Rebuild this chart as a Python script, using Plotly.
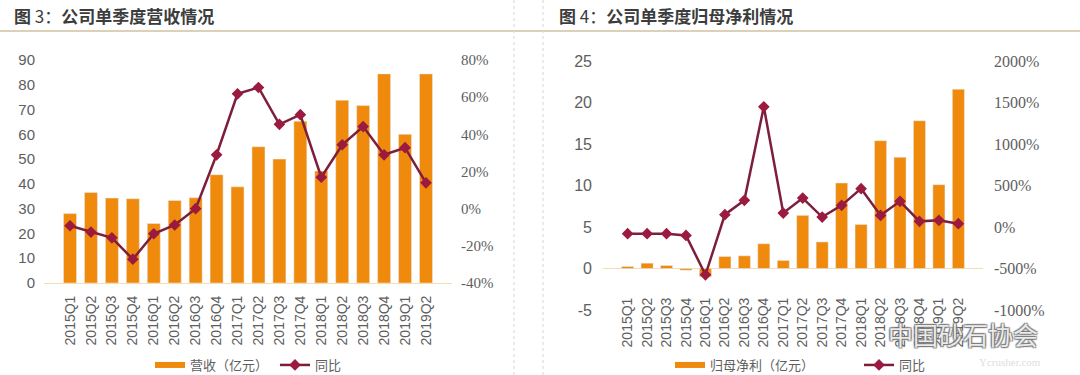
import plotly.graph_objects as go

W, H = 1080, 375

quarters = ["2015Q1", "2015Q2", "2015Q3", "2015Q4", "2016Q1", "2016Q2", "2016Q3", "2016Q4",
            "2017Q1", "2017Q2", "2017Q3", "2017Q4", "2018Q1", "2018Q2", "2018Q3", "2018Q4",
            "2019Q1", "2019Q2"]
revenue = [28.0, 36.5, 34.3, 34.0, 24.0, 33.3, 34.4, 43.7, 38.8, 55.0, 50.0, 65.3, 45.2, 73.8,
           71.6, 84.4, 60.0, 84.4]
revenue_yoy = [-9.2, -12.6, -15.7, -27.2, -13.5, -8.8, 0.0, 29.0, 61.8, 65.2, 45.4, 50.6, 16.9,
               34.4, 44.2, 29.0, 32.8, 13.9]
profit = [0.24, 0.64, 0.36, -0.2, -1.0, 1.45, 1.53, 2.98, 0.97, 6.4, 3.2, 10.3, 5.3, 15.4, 13.4,
          17.8, 10.1, 21.6]
profit_yoy = [-81, -80, -81, -101, -576, 149, 321, 1448, 168, 349, 120, 261, 462, 140, 309, 68,
              80, 40]

rev_ticks = [0, 10, 20, 30, 40, 50, 60, 70, 80, 90]
rev_yoy_ticks = [-40, -20, 0, 20, 40, 60, 80]
rev_yoy_text = ["-40%", "-20%", "0%", "20%", "40%", "60%", "80%"]
prof_ticks = [-5, 0, 5, 10, 15, 20, 25]
prof_text = ["-5", "0", "5", "10", "15", "20", "25"]
prof_yoy_ticks = [-1000, -500, 0, 500, 1000, 1500, 2000]
prof_yoy_text = ["-1000%", "-500%", "0%", "500%", "1000%", "1500%", "2000%"]

title_left = "<b>图</b> 3：<b>公司单季度营收情况</b>"
title_right = "<b>图</b> 4：<b>公司单季度归母净利情况</b>"
name_rev = "营收（亿元）"
name_prof = "归母净利（亿元）"
name_yoy = "同比"

ORANGE = "#F08A0C"
MAROON = "#7D1F3C"
MARK = "#9C1A40"
GRAY = "#5E5E5E"
SANS = "Liberation Sans, Noto Sans CJK SC, sans-serif"
SERIF = "Liberation Serif, serif"
CJK = "Noto Sans CJK SC, sans-serif"


def px_x(p):
    return p / W


def px_y(p):
    return 1 - p / H


fig = go.Figure()

# ---- left chart ----
fig.add_trace(go.Bar(x=quarters, y=revenue, marker_color=ORANGE, xaxis="x", yaxis="y",
                     showlegend=False))
fig.add_trace(go.Scatter(x=[None], y=[None], mode="lines", line=dict(color=ORANGE, width=6),
                         name=name_rev, legend="legend", xaxis="x", yaxis="y"))
fig.add_trace(go.Scatter(x=quarters, y=revenue_yoy, mode="lines+markers", name=name_yoy,
                         line=dict(color=MAROON, width=2.5),
                         marker=dict(symbol="diamond", size=9, color=MARK),
                         legend="legend", xaxis="x", yaxis="y2"))

# ---- right chart ----
fig.add_trace(go.Bar(x=quarters, y=profit, marker_color=ORANGE, xaxis="x3", yaxis="y3",
                     showlegend=False))
fig.add_trace(go.Scatter(x=[None], y=[None], mode="lines", line=dict(color=ORANGE, width=6),
                         name=name_prof, legend="legend2", xaxis="x3", yaxis="y3"))
fig.add_trace(go.Scatter(x=quarters, y=profit_yoy, mode="lines+markers", name=name_yoy,
                         line=dict(color=MAROON, width=2.5),
                         marker=dict(symbol="diamond", size=9, color=MARK),
                         legend="legend2", xaxis="x3", yaxis="y4"))

xcommon = dict(type="category", tickangle=-90, tickfont=dict(family=SANS, size=14, color=GRAY),
               showgrid=False, zeroline=False, ticks="outside", ticklen=6,
               tickcolor="rgba(0,0,0,0)", fixedrange=True, automargin=False)

fig.update_layout(
    width=W, height=H,
    margin=dict(l=0, r=0, t=0, b=0, autoexpand=False),
    paper_bgcolor="white", plot_bgcolor="rgba(0,0,0,0)",
    bargap=0.38,
    xaxis=dict(domain=[px_x(44), px_x(452)], anchor="y", showline=True, linecolor="#F4DDB2",
               linewidth=1, **xcommon),
    yaxis=dict(domain=[px_y(283), px_y(60)], range=[0, 90], tickvals=rev_ticks,
               showgrid=False, zeroline=False, ticks="", ticklabelstandoff=8, automargin=False,
               tickfont=dict(family=SANS, size=15, color=GRAY)),
    yaxis2=dict(overlaying="y", side="right", anchor="x", range=[-40, 80],
                tickvals=rev_yoy_ticks, ticktext=rev_yoy_text, showgrid=False, zeroline=False,
                ticks="", ticklabelstandoff=8, automargin=False,
                tickfont=dict(family=SERIF, size=15, color=GRAY)),
    xaxis3=dict(domain=[px_x(603), px_x(983)], anchor="free", position=px_y(285),
                showline=False, **xcommon),
    yaxis3=dict(domain=[px_y(310), px_y(61)], anchor="x3", range=[-5, 25], tickvals=prof_ticks,
                ticktext=prof_text, showgrid=False, zeroline=True, zerolinecolor="#F4DDB2",
                zerolinewidth=1, ticks="", ticklabelstandoff=10, automargin=False,
                tickfont=dict(family=SANS, size=16, color=GRAY)),
    yaxis4=dict(overlaying="y3", side="right", anchor="x3", range=[-1000, 2000],
                tickvals=prof_yoy_ticks, ticktext=prof_yoy_text, showgrid=False,
                zeroline=False, ticks="", ticklabelstandoff=10, automargin=False,
                tickfont=dict(family=SERIF, size=16, color=GRAY)),
    legend=dict(orientation="h", x=px_x(150), y=px_y(365), xanchor="left", yanchor="middle",
                xref="container", yref="container", entrywidth=80, entrywidthmode="pixels",
                font=dict(family=CJK, size=13, color=GRAY), bgcolor="rgba(0,0,0,0)",
                itemwidth=30, traceorder="normal"),
    legend2=dict(orientation="h", x=px_x(670), y=px_y(365), xanchor="left", yanchor="middle",
                 xref="container", yref="container", entrywidth=144, entrywidthmode="pixels",
                 font=dict(family=CJK, size=13, color=GRAY), bgcolor="rgba(0,0,0,0)",
                 itemwidth=30, traceorder="normal"),
    showlegend=True,
)

shapes = [
    dict(type="line", xref="paper", yref="paper", x0=0, x1=1, y0=px_y(31), y1=px_y(31),
         line=dict(color="#D2C1A2", width=1.5)),
    dict(type="line", xref="paper", yref="paper", x0=px_x(514), x1=px_x(514), y0=0, y1=1,
         line=dict(color="#D6D6D6", width=1, dash="dot")),
    dict(type="line", xref="paper", yref="paper", x0=px_x(543), x1=px_x(543), y0=0, y1=1,
         line=dict(color="#D6D6D6", width=1, dash="dot")),
]
fig.update_layout(shapes=shapes)

annotations = [
    dict(text=title_left, x=px_x(12), y=px_y(16), xref="paper", yref="paper", xanchor="left",
         yanchor="middle", showarrow=False, font=dict(family=CJK, size=17, color="#3C3C3C")),
    dict(text=title_right, x=px_x(557), y=px_y(16), xref="paper", yref="paper",
         xanchor="left", yanchor="middle", showarrow=False,
         font=dict(family=CJK, size=17, color="#3C3C3C")),
    dict(text="Ycrusher.com", x=px_x(1010), y=px_y(362), xref="paper", yref="paper",
         xanchor="center", yanchor="middle", showarrow=False,
         font=dict(family=SERIF, size=11, color="rgba(190,190,190,0.55)")),
    dict(text="中国砂石协会", x=px_x(963), y=px_y(334), xref="paper", yref="paper",
         xanchor="center", yanchor="middle", showarrow=False,
         font=dict(family=CJK, size=25, color="rgba(255,255,255,0.85)",
                   shadow="1px 1px 1px #777, -1px -1px 1px #777, 1px -1px 1px #777, -1px 1px 1px #777")),
]
fig.update_layout(annotations=annotations)

fig.write_html("out.html", config={"displayModeBar": False},
               post_script="document.body.style.margin='0';document.body.style.padding='0';")
